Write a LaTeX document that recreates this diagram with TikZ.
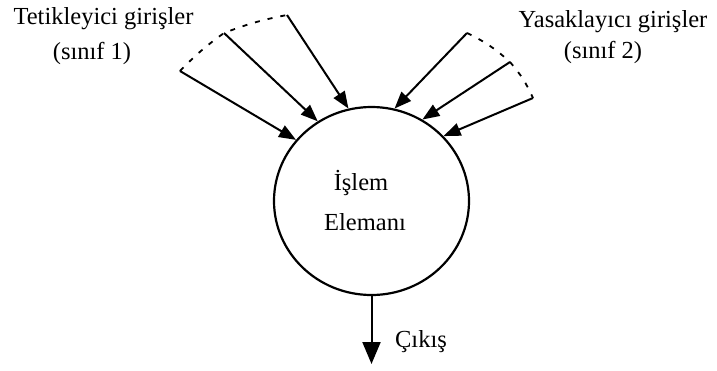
\documentclass[tikz,border=0pt]{standalone}
\usepackage{fontspec}
\setmainfont{Liberation Serif}
\usetikzlibrary{arrows.meta,shapes.geometric}
\begin{document}
\begin{tikzpicture}[x=1pt,y=-1pt,
  lbl/.style={inner sep=0pt,font=\fontsize{24.5}{28}\selectfont},
  inarrow/.style={line width=2pt,-{Triangle[length=17pt,width=13pt]}},
  outarrow/.style={line width=2pt,-{Triangle[length=22pt,width=18pt]}},
  dashline/.style={line width=1.8pt,dash pattern=on 5pt off 8pt}]
\useasboundingbox (0,0) rectangle (717,370);
\node[ellipse,draw,line width=2.2pt,minimum width=195pt,minimum height=188pt,inner sep=0pt] (c) at (371.5,201) {};
\node[lbl] (t1) at (361,183) {İşlem};
\node[lbl] (t2) at (365,222) {Elemanı};
\node[lbl] (tl1) at (103.5,19) {Tetikleyici girişler};
\node[lbl] (tl2) at (92,53) {(sınıf 1)};
\node[lbl] (tr1) at (613,22) {Yasaklayıcı girişler};
\node[lbl] (tr2) at (603,52) {(sınıf 2)};
\node[lbl] (out) at (421,342) {Çıkış};
\coordinate (s1) at (180,71);
\coordinate (s2) at (224,33);
\coordinate (s3) at (287,15);
\coordinate (s4) at (467,33);
\coordinate (s5) at (510,62);
\coordinate (s6) at (533,98);
\coordinate (e) at (371.5,364);
\draw[inarrow] (s1) -- (c.141);
\draw[inarrow] (s2) -- (c.124);
\draw[inarrow] (s3) -- (c.104);
\draw[inarrow] (s4) -- (c.76);
\draw[inarrow] (s5) -- (c.58);
\draw[inarrow] (s6) -- (c.42);
\draw[dashline] (s1) to[bend left=5] (s2) to[bend left=5] (s3);
\draw[dashline] (s4) to[bend left=8] (s5) to[bend left=8] (s6);
\draw[outarrow] (c.south) -- (e);
\end{tikzpicture}
\end{document}
